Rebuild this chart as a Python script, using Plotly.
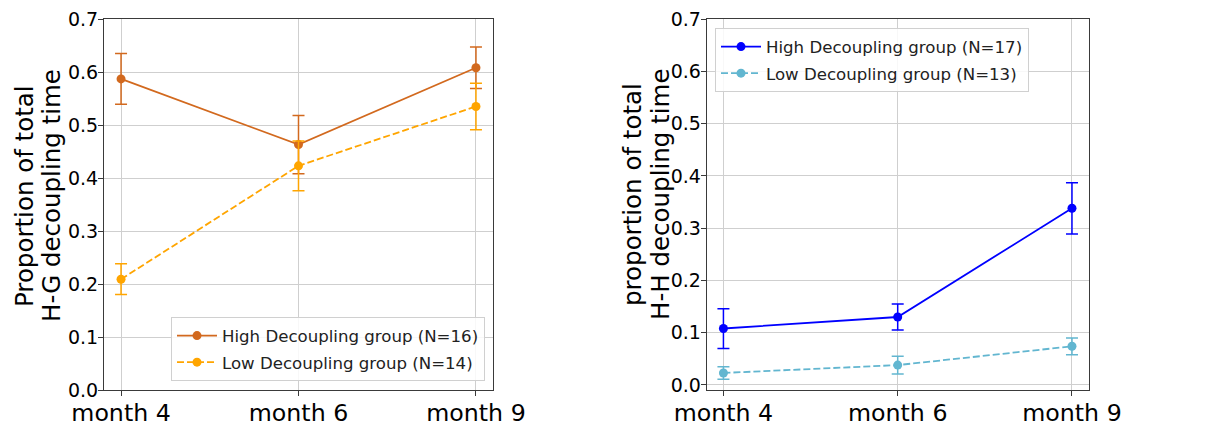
import plotly.graph_objects as go

# Study time points
months = ["month 4", "month 6", "month 9"]
x_pos = [0, 1, 2]

# Proportion of total H-G decoupling time (mean and error)
hg_high = [0.587, 0.463, 0.608]
hg_high_err = [0.048, 0.055, 0.039]
hg_low = [0.209, 0.423, 0.535]
hg_low_err = [0.029, 0.047, 0.044]

# Proportion of total H-H decoupling time (mean and error)
hh_high = [0.108, 0.130, 0.338]
hh_high_err = [0.038, 0.025, 0.049]
hh_low = [0.023, 0.038, 0.074]
hh_low_err = [0.012, 0.017, 0.016]

y_ticks = [0.0, 0.1, 0.2, 0.3, 0.4, 0.5, 0.6, 0.7]

FONT = "DejaVu Sans"
C_BROWN = "#D2691E"
C_ORANGE = "#FFA500"
C_BLUE = "#0000FF"
C_LIGHT = "#62B6D0"

W, H = 1214, 426
M_T, M_B = 19, 36

fig = go.Figure()


def add_series(xaxis, yaxis, y, err, color, name, dash, legend):
    fig.add_trace(go.Scatter(
        x=x_pos, y=y, name=name, mode="lines+markers",
        xaxis=xaxis, yaxis=yaxis, legend=legend,
        line=dict(color=color, width=1.8, dash=dash),
        marker=dict(color=color, size=9),
        error_y=dict(type="data", array=err, color=color, thickness=1.5, width=6),
        legendgroup=name,
    ))


add_series("x", "y", hg_high, hg_high_err, C_BROWN, "High Decoupling group (N=16)", "solid", "legend")
add_series("x", "y", hg_low, hg_low_err, C_ORANGE, "Low Decoupling group (N=14)", "7px,3px", "legend")
add_series("x2", "y2", hh_high, hh_high_err, C_BLUE, "High Decoupling group (N=17)", "solid", "legend2")
add_series("x2", "y2", hh_low, hh_low_err, C_LIGHT, "Low Decoupling group (N=13)", "7px,3px", "legend2")

axis_common = dict(
    showline=True, linecolor="#3a3a3a", linewidth=1, mirror=True,
    showgrid=True, gridcolor="#cfcfcf", gridwidth=1,
    ticks="outside", ticklen=5, tickcolor="#3a3a3a", tickwidth=1,
    zeroline=False, automargin=False,
)

xaxis_common = dict(
    axis_common, tickmode="array", tickvals=x_pos, ticktext=months,
    range=[-0.096, 2.096], tickfont=dict(family=FONT, size=23.7, color="black"),
    ticklabelstandoff=-3,
)
yaxis_common = dict(
    axis_common, tickmode="array", tickvals=y_ticks,
    ticktext=[f"{v:.1f}" for v in y_ticks],
    tickfont=dict(family=FONT, size=19, color="black"),
    ticklabelstandoff=-4,
)

legend_common = dict(
    font=dict(family=FONT, size=16.6, color="#222222"),
    bgcolor="rgba(255,255,255,0.85)", bordercolor="#d0d0d0", borderwidth=1,
    traceorder="grouped", tracegroupgap=2, itemwidth=40,
)

fig.update_layout(
    width=W, height=H,
    margin=dict(l=0, r=0, t=M_T, b=M_B, autoexpand=False),
    paper_bgcolor="white", plot_bgcolor="white",
    font=dict(family=FONT, color="black"),
    xaxis=dict(xaxis_common, domain=[104 / W, 493 / W], anchor="y"),
    yaxis=dict(yaxis_common, domain=[0, 1], range=[0, 0.7], anchor="x"),
    xaxis2=dict(xaxis_common, domain=[706.7 / W, 1088.7 / W], anchor="y2"),
    yaxis2=dict(yaxis_common, domain=[0, 1], range=[-0.0096, 0.7], anchor="x2"),
    legend=dict(legend_common, x=485 / W, xanchor="right",
                y=(390 - 381.3) / (H - M_T - M_B), yanchor="bottom"),
    legend2=dict(legend_common, x=715 / W, xanchor="left",
                 y=(390 - 28.3) / (H - M_T - M_B), yanchor="top"),
    showlegend=True,
)

# Two-line rotated y-axis titles
plot_h = H - M_T - M_B
title_lines = [
    ("Proportion of total", 24, 196),
    ("H-G decoupling time", 51, 196),
    ("proportion of total", 632, 195),
    ("H-H decoupling time", 660, 195),
]
for text, px, py in title_lines:
    fig.add_annotation(
        text=text, x=px / W, y=(390 - py) / plot_h, xref="paper", yref="paper",
        xanchor="center", yanchor="middle", textangle=-90, showarrow=False,
        font=dict(family=FONT, size=24.5, color="black"),
    )

fig.write_html("out.html")
